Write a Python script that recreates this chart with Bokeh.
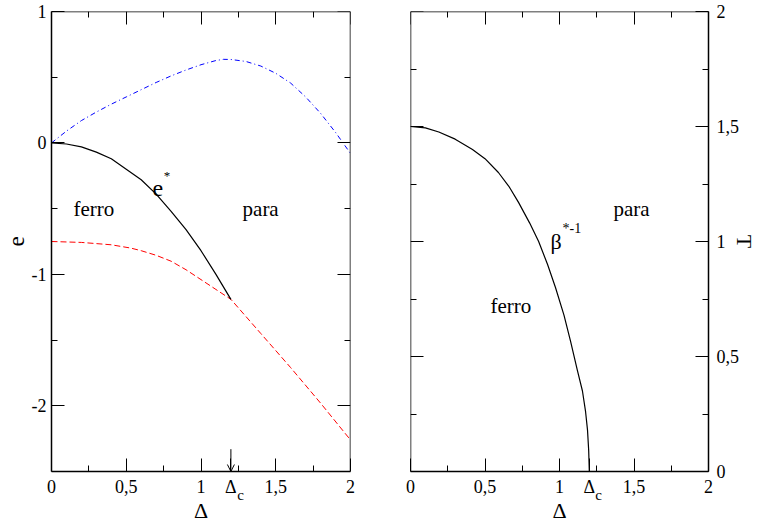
from bokeh.plotting import figure
from bokeh.models import LinearAxis, FixedTicker, Range1d, Label, Arrow, OpenHead
from bokeh.layouts import row
from bokeh.embed import file_html
from bokeh.resources import INLINE

# ---------------- data ----------------
# left panel: energies e vs Delta
delta_blue = [0, 0.1, 0.2, 0.3, 0.4, 0.5, 0.6, 0.7, 0.8, 0.9, 1.0, 1.1, 1.15, 1.2,
              1.3, 1.4, 1.5, 1.6, 1.7, 1.8, 1.9, 2.0]
e_blue = [0, 0.09, 0.17, 0.235, 0.295, 0.35, 0.405, 0.46, 0.51, 0.555, 0.595, 0.627,
          0.636, 0.635, 0.62, 0.585, 0.53, 0.455, 0.35, 0.225, 0.08, -0.08]

delta_star = [0, 0.1, 0.2, 0.3, 0.4, 0.5, 0.6, 0.7, 0.8, 0.9, 1.0, 1.1, 1.2]
e_star = [0, -0.008, -0.03, -0.07, -0.12, -0.2, -0.28, -0.39, -0.52, -0.66, -0.82, -1.0, -1.19]

delta_red = [0, 0.2, 0.4, 0.53, 0.6, 0.7, 0.8, 0.9, 1.0, 1.1, 1.2, 1.4, 1.6, 1.8, 2.0]
e_red = [-0.75, -0.757, -0.775, -0.80, -0.82, -0.855, -0.90, -0.965, -1.04, -1.115, -1.19,
         -1.45, -1.71, -1.98, -2.26]

# right panel: transition temperature T = 1/beta* vs Delta
delta_T = [0, 0.1, 0.19, 0.3, 0.416, 0.5, 0.59, 0.66, 0.725, 0.8, 0.86, 0.92, 0.973,
           1.03, 1.074, 1.12, 1.154, 1.175, 1.188, 1.196, 1.2]
T_crit = [1.5, 1.494, 1.476, 1.445, 1.40, 1.36, 1.30, 1.24, 1.17, 1.08, 1.0, 0.90, 0.80,
          0.68, 0.567, 0.44, 0.35, 0.26, 0.18, 0.09, 0.0]

# ticks
delta_c = 1.2
x_ticks = [0, 0.5, 1, delta_c, 1.5, 2]
x_minor = [0.25, 0.75, 1.25, 1.75]
x_labels = {0: "0", 0.5: "0,5", 1: "1", delta_c: "Δ", 1.5: "1,5", 2: "2"}
x_frame_ticks = [0, 0.5, 1, 1.5, 2]
e_ticks = [-2, -1, 0, 1]
e_minor = [-1.5, -0.5, 0.5]
e_labels = {-2: "-2", -1: "-1", 0: "0", 1: "1"}
T_ticks = [0, 0.5, 1, 1.5, 2]
T_minor = [0.25, 0.75, 1.25, 1.75]
T_labels = {0: "0", 0.5: "0,5", 1: "1", 1.5: "1,5", 2: "2"}

FONT = "Liberation Serif"


def make_axis(ticks, minor, labels=None, label_text=None, fixed=None):
    ax = LinearAxis(ticker=FixedTicker(ticks=ticks, minor_ticks=minor))
    ax.major_tick_in = 13
    ax.major_tick_out = 0
    ax.minor_tick_in = 6
    ax.minor_tick_out = 0
    ax.axis_line_width = 1.5
    ax.axis_line_color = "black"
    ax.major_tick_line_color = "black"
    ax.minor_tick_line_color = "black"
    ax.major_tick_line_width = 1
    ax.minor_tick_line_width = 1
    if fixed is not None:
        ax.fixed_location = fixed
    if labels is not None:
        ax.major_label_overrides = labels
        ax.major_label_text_font = FONT
        ax.major_label_text_font_size = "18px"
        ax.major_label_text_color = "black"
        ax.major_label_standoff = 5
    else:
        ax.major_label_overrides = {t: "" for t in ticks}
        ax.major_label_text_color = None
        ax.major_label_standoff = 0
    if label_text is not None:
        ax.axis_label = label_text
        ax.axis_label_text_font = FONT
        ax.axis_label_text_font_size = "23px"
        ax.axis_label_text_font_style = "normal"
        ax.axis_label_text_color = "black"
        ax.axis_label_standoff = 0
    return ax


def subscript_axis(at, text):
    """Second (line-less) bottom axis: subscript 'c' of Delta_c and the axis title."""
    ax = LinearAxis(ticker=FixedTicker(ticks=[at], minor_ticks=[]))
    ax.axis_line_color = None
    ax.major_tick_in = 0
    ax.major_tick_out = 0
    ax.minor_tick_in = 0
    ax.minor_tick_out = 0
    ax.major_label_overrides = {at: text}
    ax.major_label_text_font = FONT
    ax.major_label_text_font_size = "15px"
    ax.major_label_text_color = "black"
    ax.major_label_standoff = -13
    ax.axis_label = "Δ"
    ax.axis_label_text_font = FONT
    ax.axis_label_text_font_size = "22px"
    ax.axis_label_text_font_style = "normal"
    ax.axis_label_text_color = "black"
    ax.axis_label_standoff = -8
    return ax


def label(p, x, y, text, size, align="left"):
    p.add_layout(Label(x=x, y=y, text=text, text_font=FONT, text_font_size=size,
                       text_color="black", text_align=align, text_baseline="alphabetic"))


# ---------------- left panel ----------------
p1 = figure(frame_width=299, frame_height=460, x_range=Range1d(0, 2), y_range=Range1d(-2.5, 1),
            x_axis_type=None, y_axis_type=None, output_backend="svg", toolbar_location=None,
            min_border_left=51, min_border_right=30, min_border_top=11, min_border_bottom=51,
            outline_line_color=None, background_fill_color="white", border_fill_color="white")
p1.add_layout(make_axis(x_ticks, x_minor, x_labels), "below")
p1.add_layout(subscript_axis(1.264, "c"), "below")
p1.add_layout(make_axis(x_frame_ticks, x_minor, fixed=1), "above")
ax_e = make_axis(e_ticks, e_minor, e_labels, "e")
ax_e.axis_label_standoff = 5
p1.add_layout(ax_e, "left")
p1.add_layout(make_axis(e_ticks, e_minor, fixed=2), "right")

p1.line(delta_blue, e_blue, line_color="#0000ff", line_width=1, line_dash="5 3 1 3")
p1.line(delta_red, e_red, line_color="#ff0000", line_width=1, line_dash="6 3")
p1.line(delta_star, e_star, line_color="black", line_width=1.2)

label(p1, 0.147, -0.5, "ferro", "21px")
label(p1, 1.278, -0.5, "para", "21px")
label(p1, 0.676, -0.346, "e", "24px")
label(p1, 0.75, -0.25, "*", "13px")
p1.add_layout(Arrow(end=OpenHead(size=7, line_width=1, line_color="black"),
                    x_start=delta_c, y_start=-2.33, x_end=delta_c, y_end=-2.5,
                    line_color="black", line_width=1))

# ---------------- right panel ----------------
p2 = figure(frame_width=298, frame_height=460, x_range=Range1d(0, 2), y_range=Range1d(0, 2),
            x_axis_type=None, y_axis_type=None, output_backend="svg", toolbar_location=None,
            min_border_left=30, min_border_right=51, min_border_top=11, min_border_bottom=51,
            outline_line_color=None, background_fill_color="white", border_fill_color="white")
p2.add_layout(make_axis(x_ticks, x_minor, x_labels), "below")
p2.add_layout(subscript_axis(1.262, "c"), "below")
p2.add_layout(make_axis(x_frame_ticks, x_minor, fixed=2), "above")
p2.add_layout(make_axis(T_ticks, T_minor, fixed=0), "left")
ax_T = make_axis(T_ticks, T_minor, T_labels, "T")
ax_T.major_label_standoff = 8
ax_T.axis_label_text_font_size = "22px"
ax_T.axis_label_standoff = -10
p2.add_layout(ax_T, "right")

p2.line(delta_T, T_crit, line_color="black", line_width=1.2)

label(p2, 0.537, 0.719, "ferro", "21px")
label(p2, 1.362, 1.143, "para", "21px")
label(p2, 0.94, 1.0, "β", "22px")
label(p2, 1.02, 1.056, "*-1", "14px")

layout = row(p1, p2)
open("out.html", "w").write(file_html(layout, INLINE))
